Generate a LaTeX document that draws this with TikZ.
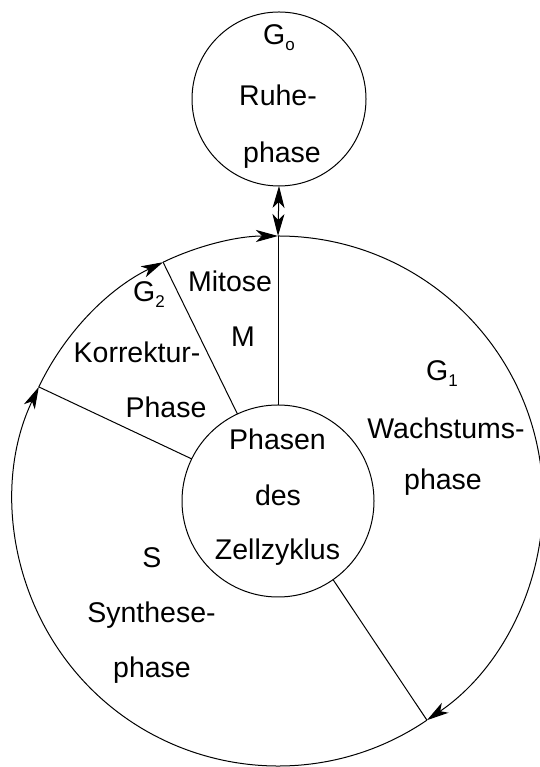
\documentclass[tikz,border=0pt]{standalone}
\usepackage{fontspec}
\setmainfont{Liberation Sans}
\usetikzlibrary{arrows.meta,calc}

% lowered small index, e.g. G_1
\newcommand{\lowidx}[1]{\raisebox{-6pt}{\fontsize{17}{17}\selectfont #1}}

\tikzset{
  lbl/.style={anchor=base, inner sep=0pt, font=\fontsize{28.5}{34}\selectfont},
  ring/.style={line width=1pt},
  tip/.style={ring, -{Stealth[length=22pt,width=12pt,inset=6pt]}},
  bubble/.style={draw, circle, line width=1pt, inner sep=0pt, outer sep=0pt},
}

\begin{document}
\begin{tikzpicture}[x=1pt, y=1pt]
\useasboundingbox (0,0) rectangle (539,767);

% centre of the cell cycle
\coordinate (c) at (278,266);

% circles
\node[bubble, minimum size=192pt] (core) at (c) {};
\node[bubble, minimum size=174pt] (rest) at (279,668) {};

% phase boundaries on the outer ring
\coordinate (pM)  at ($(c)+(90:265)$);
\coordinate (pG2) at ($(c)+(115.7:265)$);
\coordinate (pS)  at ($(c)+(154.5:265)$);
\coordinate (pG1) at ($(c)+(-55.8:265)$);

% outer ring, running clockwise, one arrow per phase
\draw[tip] (pM)  arc[start angle=90,     end angle=-55.8,  radius=265];
\draw[tip] (pG1) arc[start angle=-55.8,  end angle=-205.5, radius=265];
\draw[tip] (pS)  arc[start angle=-205.5, end angle=-244.3, radius=265];
\draw[tip] (pG2) arc[start angle=-244.3, end angle=-270,   radius=265];

% radial separators
\draw[ring] (core.90)    -- (pM);
\draw[ring] (core.115.7) -- (pG2);
\draw[ring] (core.154.5) -- (pS);
\draw[ring] (core.-55.8) -- (pG1);

% link to the resting phase
\draw[ring, {Stealth[length=22pt,width=12pt,inset=6pt]}-{Stealth[length=22pt,width=12pt,inset=6pt]}] (rest.south) -- (pM);

% G0
\node[lbl] (g0a) at (279,722) {G\lowidx{o}};
\node[lbl] (g0b) at (278,661) {Ruhe-};
\node[lbl] (g0c) at (282,604) {phase};

% Mitosis
\node[lbl] (ma) at (230,475) {Mitose};
\node[lbl] (mb) at (243,420) {M};

% G2
\node[lbl] (g2a) at (149,465) {G\lowidx{2}};
\node[lbl] (g2b) at (137,404) {Korrektur-};
\node[lbl] (g2c) at (166,349) {Phase};

% G1
\node[lbl] (g1a) at (442,386) {G\lowidx{1}};
\node[lbl] (g1b) at (446,328) {Wachstums-};
\node[lbl] (g1c) at (443,277) {phase};

% centre
\node[lbl] (ca) at (277.5,317) {Phasen};
\node[lbl] (cb) at (278,261) {des};
\node[lbl] (cc) at (277.5,207) {Zellzyklus};

% S
\node[lbl] (sa) at (152,199) {S};
\node[lbl] (sb) at (151.5,144) {Synthese-};
\node[lbl] (sc) at (152,89) {phase};
\end{tikzpicture}
\end{document}
